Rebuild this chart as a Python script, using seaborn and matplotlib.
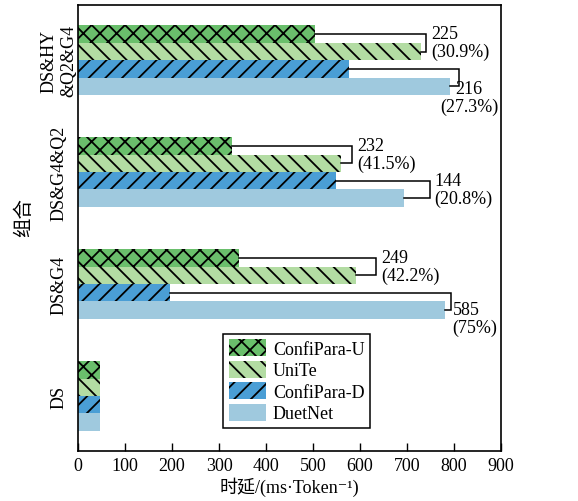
import seaborn as sns
import matplotlib.pyplot as plt
import pandas as pd

# --- data ---
groups = ["DS&HY\n&Q2&G4", "DS&G4&Q2", "DS&G4", "DS"]   # top to bottom
series = ["ConfiPara-U", "UniTe", "ConfiPara-D", "DuetNet"]
confipara_u = [505, 327, 342, 47]
unite = [730, 559, 591, 47]
confipara_d = [576, 549, 196, 47]
duetnet = [792, 693, 781, 47]

# bracket labels for the first three groups
u_labels = ["225\n(30.9%)", "232\n(41.5%)", "249\n(42.2%)"]
d_labels = ["216\n(27.3%)", "144\n(20.8%)", "585\n(75%)"]

colors = ["#6abf6c", "#b3dca3", "#4a9ed5", "#9fc9de"]
hatches = ["xx", "\\\\", "//", ""]

rows = []
for name, vals in zip(series, [confipara_u, unite, confipara_d, duetnet]):
    for g, v in zip(groups, vals):
        rows.append({"组合": g, "方法": name, "时延": v})
df = pd.DataFrame(rows)

plt.rcParams["font.family"] = ["Liberation Serif", "DejaVu Serif", "Noto Sans CJK SC"]
plt.rcParams["hatch.linewidth"] = 1.3
plt.rcParams["hatch.color"] = "black"

fig = plt.figure(figsize=(5.78, 5.02), dpi=100)
ax = fig.add_axes([0.135, 0.0996, 0.732, 0.888])

sns.barplot(data=df, y="组合", x="时延", hue="方法", order=groups,
            hue_order=series, palette=colors, width=0.62, gap=0,
            orient="h", legend=False, ax=ax, saturation=1)

for cont, h in zip(ax.containers, hatches):
    for bar in cont:
        bar.set_hatch(h)
        bar.set_edgecolor("black")
        bar.set_linewidth(0)

# --- brackets between pairs of bars ---
def bracket(top_bar, low_bar, gap, label, ha, dx, dy, anchor):
    y1 = top_bar.get_y() + top_bar.get_height() / 2
    y2 = low_bar.get_y() + low_bar.get_height() / 2
    x1 = top_bar.get_width()
    x2 = low_bar.get_width()
    bx = max(x1, x2) + gap
    ax.plot([x1, bx, bx, x2], [y1, y1, y2, y2], color="black", lw=1.1,
            solid_joinstyle="miter", clip_on=False)
    ty = (y1 + y2) / 2 if anchor == "mid" else y2
    ax.annotate(label, (bx, ty), xytext=(dx, dy), textcoords="offset points",
                ha=ha, va="center", multialignment=ha, fontsize=13,
                linespacing=1.05)

u_gaps = [10, 24, 43]
d_gaps = [19, 56, 13]
d_style = [("center", 7, -8, "low"), ("left", 3, 0, "mid"), ("left", 1, -6, "low")]
c_u, c_uni, c_d, c_duet = ax.containers
for i in range(3):
    bracket(c_u[i], c_uni[i], u_gaps[i], u_labels[i], "left", 4, 0, "mid")
    ha, dx, dy, anc = d_style[i]
    bracket(c_d[i], c_duet[i], d_gaps[i], d_labels[i], ha, dx, dy, anc)

# --- axes styling ---
ax.set_xlim(0, 900)
ax.set_xticks(range(0, 901, 100))
ax.set_xlabel("时延/(ms·Token⁻¹)", fontsize=13, labelpad=2)
ax.set_ylabel("组合", fontsize=14)
ax.yaxis.set_label_coords(-0.107, 0.527)
ax.tick_params(axis="x", direction="in", length=6, width=1, labelsize=13, pad=4)
ax.tick_params(axis="y", length=0, labelsize=13, pad=14)
for lab in ax.get_yticklabels():
    lab.set_rotation(90)
    lab.set_va("center")
    lab.set_ha("center")
    lab.set_multialignment("center")
for s in ax.spines.values():
    s.set_color("black")
    s.set_linewidth(1.2)

leg = ax.legend(ax.containers, series, loc="lower left",
                bbox_to_anchor=(0.343, 0.052), fontsize=13, frameon=True,
                fancybox=False, edgecolor="black", framealpha=1,
                handlelength=2.1, handleheight=1.1, labelspacing=0.15,
                handletextpad=0.35, borderpad=0.3, borderaxespad=0)
leg.get_frame().set_linewidth(1.1)

fig.savefig("out.png", dpi=100)
